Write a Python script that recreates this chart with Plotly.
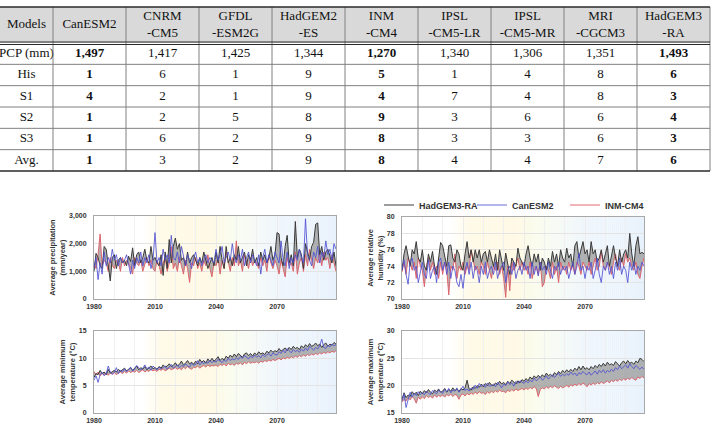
import plotly.graph_objects as go

# ---------------- Table data ----------------
header = ["Models", "CanESM2", "CNRM<br>-CM5", "GFDL<br>-ESM2G", "HadGEM2<br>-ES", "INM<br>-CM4",
          "IPSL<br>-CM5-LR", "IPSL<br>-CM5-MR", "MRI<br>-CGCM3", "HadGEM3<br>-RA"]
row_labels = ["PCP (mm)", "His", "S1", "S2", "S3", "Avg."]
pcp = ["1,497", "1,417", "1,425", "1,344", "1,270", "1,340", "1,306", "1,351", "1,493"]
rank_his = [1, 6, 1, 9, 5, 1, 4, 8, 6]
rank_s1 = [4, 2, 1, 9, 4, 7, 4, 8, 3]
rank_s2 = [1, 2, 5, 8, 9, 3, 6, 6, 4]
rank_s3 = [1, 6, 2, 9, 8, 3, 3, 6, 3]
rank_avg = [1, 3, 2, 9, 8, 4, 4, 7, 6]
bold_cols = [0, 4, 8]  # CanESM2, INM-CM4, HadGEM3-RA

# ---------------- Time-series data (1980-2099) ----------------
years = list(range(1980, 2100))

pr_had = [1000, 1650, 1500, 1200, 1100, 1900, 1800, 1300, 650, 1500,
          1600, 1100, 1400, 1500, 1300, 1400, 1200, 1550, 1350, 1850,
          1200, 1600, 1700, 1300, 1500, 1800, 1400, 1300, 1900, 1400,
          1500, 1300, 1200, 1600, 850, 1700, 1100, 2150, 1300, 1900,
          2200, 1800, 2000, 1400, 1500, 1200, 1700, 1300, 1500, 1600,
          1400, 1200, 1500, 1300, 1700, 1400, 1100, 1300, 1500, 1200,
          1700, 1300, 1900, 1400, 1100, 1900, 1300, 1500, 1200, 1600,
          1400, 1900, 1300, 1500, 1700, 1200, 1600, 1400, 1800, 1300,
          1500, 1200, 1700, 1400, 1600, 1300, 1500, 1900, 1400, 1600,
          2400, 2350, 1500, 1200, 1900, 2300, 1300, 1600, 1200, 2800,
          1500, 1800, 1600, 1100, 2000, 1700, 1400, 1900, 2050, 2700,
          2750, 1600, 1900, 1400, 1700, 1800, 1500, 1300, 1700, 1200]
pr_can = [1100, 1500, 700, 1300, 900, 1700, 1200, 1500, 1300, 1800,
          1400, 1600, 1200, 1500, 1300, 1400, 1600, 1200, 900, 1400,
          1100, 1500, 1300, 1700, 1200, 1500, 1300, 1600, 1100, 1400,
          2400, 1300, 1500, 1200, 1800, 1400, 1600, 1300, 2300, 1500,
          1400, 1700, 1300, 1900, 1500, 1200, 1600, 1400, 1100, 1500,
          1700, 1300, 1500, 1200, 1400, 1600, 1300, 1500, 1400, 1300,
          1800, 1400, 1600, 1900, 1300, 1500, 1700, 1400, 2000, 1500,
          1300, 1600, 1400, 1800, 1200, 1500, 1700, 1300, 1600, 1400,
          1200, 1600, 900, 1500, 1800, 1300, 1600, 1400, 1200, 1700,
          1500, 1300, 2100, 1400, 1200, 1700, 1100, 1500, 1300, 1600,
          1400, 1800, 1500, 1300, 2900, 1600, 1400, 1200, 1700, 1500,
          1900, 1300, 1700, 1500, 2100, 1600, 1800, 1400, 2000, 1800]
pr_inm = [1300, 1100, 1600, 2350, 1200, 1400, 1300, 1000, 1500, 1200,
          1100, 1400, 1300, 1000, 1500, 1200, 1400, 1300, 1100, 900,
          1500, 1300, 1200, 1400, 1000, 1300, 1500, 1200, 1400, 1100,
          1000, 1400, 1200, 900, 1300, 1500, 1000, 1300, 1900, 1100,
          1300, 1000, 1500, 1200, 900, 1400, 1100, 600, 1300, 1200,
          1500, 1100, 1300, 1000, 1400, 1200, 1600, 1100, 800, 1300,
          1200, 1500, 900, 1400, 1100, 1700, 1300, 1000, 1500, 1200,
          2100, 1200, 1400, 1000, 1600, 1300, 1100, 1500, 1200, 1400,
          1300, 1100, 1500, 1200, 1400, 1000, 1600, 1300, 1100, 1400,
          1200, 900, 1400, 1100, 800, 1500, 1200, 1300, 1000, 1700,
          900, 1300, 1500, 1000, 1600, 1200, 1800, 1400, 1100, 1500,
          1300, 1600, 1200, 1700, 1400, 1500, 1100, 1600, 1300, 1000]

rh_had = [73.5, 75.5, 76.5, 75.0, 74.0, 76.0, 75.5, 77.0, 75.0, 74.5,
          76.0, 74.0, 73.5, 75.5, 74.5, 75.8, 74.0, 73.0, 75.0, 76.9,
          76.5, 75.0, 74.0, 76.5, 76.6, 75.0, 74.5, 76.0, 75.5, 74.0,
          73.5, 75.5, 77.0, 75.0, 76.0, 74.5, 76.0, 75.0, 76.0, 74.5,
          75.5, 75.8, 74.5, 76.0, 75.0, 74.0, 75.5, 73.5, 76.0, 74.8,
          73.5, 75.6, 74.5, 73.0, 75.0, 74.5, 74.0, 76.2, 75.0, 74.5,
          74.0, 75.5, 76.5, 75.0, 74.0, 75.5, 74.5, 75.5, 73.5, 75.0,
          74.5, 73.5, 75.0, 74.0, 75.8, 74.5, 75.5, 74.0, 76.0, 75.0,
          74.5, 76.2, 75.0, 75.5, 74.0, 76.5, 77.0, 75.0, 76.0, 77.0,
          75.5, 76.0, 74.5, 77.0, 75.5, 76.0, 74.5, 75.0, 76.0, 74.5,
          75.5, 76.5, 74.0, 75.5, 76.5, 75.0, 74.0, 76.0, 74.5, 75.5,
          76.0, 75.0, 78.0, 75.5, 74.0, 76.5, 77.6, 75.5, 75.7, 75.5]
rh_can = [73.5, 74.8, 73.0, 71.8, 74.5, 75.0, 73.5, 74.0, 72.0, 73.5,
          74.5, 73.0, 72.5, 74.8, 72.5, 73.5, 74.0, 72.0, 74.5, 75.0,
          73.5, 74.5, 73.0, 74.5, 72.5, 74.0, 73.5, 72.0, 71.5, 73.0,
          71.3, 73.5, 74.5, 73.0, 74.5, 72.5, 74.0, 73.5, 72.0, 74.0,
          73.0, 74.5, 72.5, 73.5, 74.0, 73.0, 74.5, 72.5, 73.5, 74.0,
          74.5, 72.0, 73.5, 74.0, 73.0, 74.5, 72.5, 73.5, 74.0, 73.0,
          74.5, 73.5, 74.0, 72.5, 74.5, 73.0, 74.0, 72.8, 74.5, 73.5,
          74.0, 73.0, 74.5, 73.5, 72.5, 74.0, 73.5, 74.5, 73.0, 74.0,
          73.5, 74.0, 72.5, 73.5, 74.5, 73.0, 74.0, 75.6, 73.5, 74.0,
          72.5, 74.0, 73.5, 74.5, 72.5, 73.5, 75.0, 73.0, 72.0, 74.0,
          73.5, 74.5, 73.0, 74.0, 72.5, 74.5, 73.5, 75.0, 73.0, 74.0,
          73.5, 72.0, 74.5, 73.5, 74.5, 73.0, 74.0, 73.5, 74.5, 74.0]
rh_inm = [73.3, 74.5, 73.0, 75.0, 74.5, 73.5, 74.5, 72.5, 75.0, 74.0,
          73.5, 71.5, 74.0, 75.0, 73.5, 74.5, 73.0, 74.0, 72.5, 74.5,
          73.0, 74.5, 73.5, 70.5, 74.0, 73.5, 75.5, 72.5, 74.0, 73.5,
          74.5, 73.0, 74.0, 73.5, 76.0, 74.5, 73.5, 74.0, 73.0, 74.5,
          74.0, 73.0, 74.5, 73.5, 72.5, 74.0, 73.5, 74.5, 73.0, 74.0,
          72.5, 70.2, 74.0, 71.0, 74.5, 73.5, 74.0, 75.0, 73.5, 74.5,
          73.5, 74.0, 73.0, 74.5, 72.5, 73.5, 74.0, 73.0, 74.5, 71.5,
          72.0, 74.0, 73.5, 72.5, 74.5, 73.0, 74.0, 72.0, 74.5, 73.5,
          74.0, 73.0, 74.5, 73.5, 74.0, 73.0, 74.5, 74.0, 73.0, 74.5,
          74.0, 73.5, 74.5, 73.0, 74.0, 75.0, 73.5, 74.0, 75.8, 74.0,
          73.5, 74.5, 74.0, 73.0, 74.5, 75.5, 74.0, 73.5, 75.0, 74.0,
          75.5, 74.5, 75.0, 74.0, 73.5, 74.5, 73.0, 72.5, 74.0, 75.0]

tmin_had = [6.5, 7.2, 7.0, 7.8, 7.2, 7.5, 7.0, 8.0, 7.3, 7.6,
            7.8, 7.5, 8.0, 7.6, 7.9, 8.2, 7.7, 8.0, 8.3, 7.8,
            8.2, 8.6, 7.9, 8.3, 8.0, 8.5, 7.9, 8.2, 8.6, 8.1,
            8.3, 8.0, 8.5, 8.2, 8.8, 8.4, 8.6, 9.0, 8.5, 8.7,
            9.2, 8.6, 8.9, 9.5, 8.8, 9.1, 9.6, 9.0, 9.3, 8.9,
            9.5, 9.0, 9.8, 9.3, 9.6, 9.1, 9.9, 9.4, 10.0, 9.5,
            9.8, 10.3, 9.6, 10.0, 9.7, 10.4, 10.0, 10.6, 10.2, 10.8,
            10.3, 10.9, 10.5, 10.2, 10.8, 11.0, 10.5, 10.9, 10.4, 11.0,
            10.6, 11.2, 10.8, 11.0, 10.7, 11.3, 11.0, 11.5, 11.1, 11.4,
            11.2, 11.8, 11.3, 11.6, 11.9, 11.4, 12.0, 11.6, 12.2, 11.8,
            12.0, 11.6, 12.3, 11.9, 12.5, 12.1, 12.7, 12.2, 12.4, 12.8,
            12.3, 12.6, 12.0, 12.5, 12.8, 12.2, 12.6, 12.4, 12.9, 12.6]
tmin_can = [6.0, 6.8, 5.6, 7.0, 7.4, 6.8, 7.2, 8.6, 7.5, 7.1,
            7.4, 8.3, 7.2, 7.8, 7.5, 8.1, 7.6, 7.9, 8.4, 7.7,
            8.0, 8.7, 8.3, 7.9, 8.2, 8.8, 8.1, 8.4, 7.8, 8.6,
            8.2, 7.9, 8.4, 8.1, 8.3, 8.6, 8.0, 8.4, 8.9, 8.2,
            8.5, 8.8, 8.3, 8.7, 8.5, 9.0, 8.6, 8.4, 9.1, 8.7,
            8.9, 9.6, 8.8, 9.3, 9.0, 9.4, 9.1, 9.6, 9.2, 9.5,
            9.3, 9.8, 9.5, 9.2, 9.7, 9.4, 10.0, 9.6, 9.9, 9.7,
            10.1, 9.8, 10.3, 10.0, 10.5, 10.2, 9.9, 10.4, 10.1, 10.6,
            10.2, 10.5, 10.1, 10.7, 10.3, 10.6, 10.9, 10.4, 11.0, 10.7,
            10.6, 11.2, 10.9, 11.5, 11.0, 11.8, 11.3, 11.0, 11.6, 11.2,
            11.5, 11.1, 11.7, 11.3, 11.9, 11.4, 12.2, 11.8, 11.5, 12.0,
            11.7, 12.3, 13.5, 12.0, 11.8, 12.4, 12.1, 12.6, 12.3, 12.5]
tmin_inm = [7.6, 7.0, 7.5, 6.8, 7.2, 7.0, 7.4, 6.9, 7.3, 7.1,
            7.4, 7.0, 7.3, 7.5, 7.2, 7.6, 7.3, 7.7, 7.4, 7.6,
            7.5, 7.8, 7.4, 7.6, 7.9, 7.5, 7.8, 7.6, 8.0, 7.7,
            7.9, 7.6, 8.0, 7.8, 8.1, 7.7, 8.0, 8.2, 7.9, 8.1,
            8.3, 8.0, 8.2, 7.9, 8.4, 8.1, 8.5, 8.2, 8.0, 8.4,
            8.3, 8.6, 8.2, 8.5, 8.7, 8.4, 8.8, 8.5, 8.7, 8.6,
            8.8, 8.5, 8.9, 8.7, 9.0, 8.6, 9.1, 8.8, 9.0, 8.7,
            9.1, 8.9, 9.2, 8.8, 9.3, 9.0, 9.4, 9.1, 9.3, 9.2,
            9.4, 9.1, 9.5, 9.3, 9.6, 9.4, 9.7, 9.5, 9.8, 9.6,
            9.8, 10.0, 9.7, 10.1, 9.9, 10.2, 10.0, 10.3, 10.1, 10.4,
            10.2, 10.5, 10.3, 10.6, 10.4, 10.7, 10.5, 10.8, 10.6, 10.9,
            10.7, 11.0, 10.8, 11.1, 10.9, 11.2, 11.0, 11.3, 11.1, 11.4]

tmax_had = [17.5, 18.7, 17.8, 18.3, 18.0, 18.9, 18.4, 18.8, 18.2, 19.0,
            18.5, 19.1, 18.7, 19.3, 18.8, 18.5, 19.2, 18.9, 19.4, 18.8,
            19.0, 19.5, 18.8, 19.3, 19.0, 19.6, 19.1, 19.4, 18.9, 19.5,
            19.2, 19.6, 21.0, 19.4, 19.2, 19.8, 19.5, 20.0, 19.7, 20.3,
            19.8, 20.4, 20.0, 20.6, 20.1, 20.0, 20.5, 20.2, 20.8, 20.3,
            20.6, 20.2, 20.8, 20.4, 21.0, 20.6, 20.3, 20.9, 20.5, 21.1,
            20.8, 21.3, 20.9, 21.6, 21.2, 21.8, 21.4, 21.9, 21.5, 22.0,
            21.6, 22.3, 21.8, 22.1, 21.7, 22.4, 22.0, 22.6, 22.2, 22.8,
            22.4, 22.9, 22.5, 23.0, 22.6, 23.2, 22.8, 23.5, 22.9, 23.6,
            23.0, 23.3, 22.9, 23.5, 23.1, 23.7, 23.3, 23.9, 23.5, 24.1,
            23.6, 24.3, 23.8, 24.0, 23.7, 24.4, 24.0, 23.6, 24.2, 24.5,
            24.0, 24.6, 24.1, 24.3, 23.9, 24.5, 24.2, 25.0, 24.8, 24.4]
tmax_can = [17.2, 18.5, 16.0, 17.5, 18.8, 17.9, 18.6, 18.2, 18.9, 18.4,
            18.7, 18.3, 19.0, 18.6, 18.4, 19.1, 18.8, 18.5, 19.2, 18.9,
            18.6, 19.3, 18.9, 19.5, 18.7, 19.2, 19.0, 19.6, 18.8, 19.3,
            19.9, 19.1, 19.4, 19.0, 19.6, 19.3, 20.1, 19.5, 20.4, 19.8,
            20.2, 19.7, 20.5, 19.9, 20.0, 20.3, 19.8, 20.6, 20.1, 19.6,
            20.3, 20.0, 20.7, 20.2, 20.5, 19.9, 20.8, 20.4, 20.9, 20.6,
            20.4, 20.9, 20.5, 21.0, 20.7, 21.4, 20.9, 21.2, 21.6, 21.0,
            21.3, 21.8, 21.2, 21.6, 22.0, 21.5, 21.9, 22.3, 21.7, 22.1,
            21.8, 22.2, 21.9, 22.5, 22.0, 22.3, 21.8, 22.4, 22.1, 22.6,
            22.2, 22.0, 22.5, 21.9, 22.3, 22.7, 22.1, 22.8, 22.4, 22.9,
            22.3, 22.8, 22.5, 23.0, 22.6, 23.3, 22.9, 23.6, 23.1, 23.4,
            23.8, 23.2, 24.0, 23.5, 23.1, 23.7, 23.3, 23.0, 23.4, 23.0]
tmax_inm = [17.0, 17.5, 17.2, 17.8, 17.4, 18.0, 17.6, 16.8, 17.9, 17.5,
            18.0, 17.6, 18.2, 17.8, 18.1, 17.7, 18.3, 17.9, 18.2, 18.0,
            18.3, 17.9, 18.4, 18.1, 18.5, 18.0, 18.4, 18.2, 17.5, 18.3,
            18.5, 18.1, 18.6, 18.3, 18.7, 18.4, 18.8, 18.5, 18.9, 18.6,
            18.7, 18.4, 18.9, 18.6, 19.0, 18.7, 19.1, 18.8, 19.2, 18.9,
            19.0, 18.7, 19.2, 18.9, 19.3, 19.0, 19.4, 19.1, 19.3, 19.5,
            19.2, 19.6, 19.3, 19.7, 19.4, 19.8, 19.5, 18.0, 19.3, 19.6,
            19.4, 19.8, 19.5, 19.9, 19.6, 20.0, 19.7, 19.5, 19.9, 19.6,
            19.8, 20.1, 19.7, 20.2, 19.9, 20.3, 20.0, 20.4, 20.1, 20.5,
            20.2, 19.8, 20.4, 20.1, 20.5, 20.2, 20.6, 20.3, 20.7, 20.4,
            20.6, 20.9, 20.5, 21.0, 20.7, 21.1, 20.8, 21.2, 20.9, 21.3,
            21.0, 21.4, 21.1, 21.5, 21.2, 21.0, 21.6, 21.3, 21.7, 21.4]

series_names = ["HadGEM3-RA", "CanESM2", "INM-CM4"]
x_tick_vals = [1980, 2010, 2040, 2070]

panels = [
    dict(had=pr_had, can=pr_can, inm=pr_inm, title="Average precipitation<br>(mm/year)",
         yrange=[0, 3000], dtick=1000, fmt=",d"),
    dict(had=rh_had, can=rh_can, inm=rh_inm, title="Average relative<br>humidity (%)",
         yrange=[70, 80], dtick=2, fmt="d"),
    dict(had=tmin_had, can=tmin_can, inm=tmin_inm, title="Average minimum<br>temperature (°C)",
         yrange=[0, 15], dtick=5, fmt="d"),
    dict(had=tmax_had, can=tmax_can, inm=tmax_inm, title="Average maximum<br>temperature (°C)",
         yrange=[15, 30], dtick=5, fmt="d"),
]

W, H = 712, 429
def px_x(a, b):
    return [a / W, b / W]
def px_y(top, bottom):
    return [1 - bottom / H, 1 - top / H]

domains = [
    (px_x(94, 336), px_y(216, 299)),
    (px_x(402, 644), px_y(217, 299)),
    (px_x(94, 336), px_y(331, 413)),
    (px_x(402, 644), px_y(331, 413)),
]

fig = go.Figure()
shapes = []

# ---------------- Table (drawn on a hidden pixel-unit axis pair over the top band) ----------------
TABLE_H = 180  # pixel height of the band that holds the table
col_edges = [0, 53] + [53 + 73.0 * k for k in range(1, 10)]
row_edges = [7, 43] + [43 + 128.0 / 6 * k for k in range(1, 7)]
TX, TY = "x5", "y5"
table_rows = [pcp, rank_his, rank_s1, rank_s2, rank_s3, rank_avg]

tx, ty, tt = [], [], []
for c, h in enumerate(header):
    tx.append((col_edges[c] + col_edges[c + 1]) / 2)
    ty.append((row_edges[0] + row_edges[1]) / 2)
    tt.append(h)
for r, (lab, vals) in enumerate(zip(row_labels, table_rows)):
    yc = (row_edges[r + 1] + row_edges[r + 2]) / 2
    tx.append((col_edges[0] + col_edges[1]) / 2)
    ty.append(yc)
    tt.append(lab)
    for j, v in enumerate(vals):
        s = str(v)
        tx.append((col_edges[j + 1] + col_edges[j + 2]) / 2)
        ty.append(yc)
        tt.append(f"<b>{s}</b>" if j in bold_cols else s)

fig.add_trace(go.Scatter(x=tx, y=ty, text=tt, mode="text", textposition="middle center",
                         textfont=dict(family="Liberation Serif", size=13, color="#111"),
                         xaxis=TX, yaxis=TY, showlegend=False, hoverinfo="skip",
                         cliponaxis=False))

shapes.append(dict(type="rect", xref=TX, yref=TY, x0=0, x1=col_edges[-1],
                   y0=row_edges[0], y1=row_edges[1], fillcolor="#d9d9d9",
                   line=dict(width=0), layer="below"))
for xe in col_edges[1:]:
    shapes.append(dict(type="line", xref=TX, yref=TY, x0=xe, x1=xe, y0=row_edges[0],
                       y1=row_edges[-1], line=dict(color="#808080", width=1)))
for ye in row_edges[2:-1]:
    shapes.append(dict(type="line", xref=TX, yref=TY, x0=0, x1=col_edges[-1], y0=ye, y1=ye,
                       line=dict(color="#808080", width=1)))
for ye, wd in [(row_edges[0], 1.6), (row_edges[1] - 1, 1.0), (row_edges[1] + 1.5, 1.0),
               (row_edges[-1], 1.6)]:
    shapes.append(dict(type="line", xref=TX, yref=TY, x0=0, x1=col_edges[-1], y0=ye, y1=ye,
                       line=dict(color="#2a2a2a", width=wd)))

# ---------------- Time series panels ----------------
bg_stops = [(1980, (255, 255, 255)), (2004, (255, 255, 255)), (2014, (255, 250, 230)),
            (2034, (255, 249, 228)), (2046, (250, 252, 236)), (2060, (244, 249, 247)),
            (2074, (238, 245, 252)), (2099, (232, 242, 252))]
def bg_color(yr):
    for (a, ca), (b, cb) in zip(bg_stops[:-1], bg_stops[1:]):
        if a <= yr <= b:
            t = (yr - a) / (b - a)
            c = [round(ca[k] + (cb[k] - ca[k]) * t) for k in range(3)]
            return f"rgb({c[0]},{c[1]},{c[2]})"
    return "white"

tick_font = dict(family="Liberation Sans", size=7, color="#333", weight="bold")
for i, (p, (dx, dy)) in enumerate(zip(panels, domains)):
    n = "" if i == 0 else str(i + 1)
    xa, ya = "x" + n, "y" + n
    show = (i == 1)
    # INM-CM4 line (also the lower edge of the gray band)
    fig.add_trace(go.Scatter(x=years, y=p["inm"], mode="lines", name=series_names[2],
                             line=dict(color="rgba(222,90,100,0.9)", width=1),
                             xaxis=xa, yaxis=ya, showlegend=show, legendrank=3))
    # gray band between INM-CM4 and HadGEM3-RA
    fig.add_trace(go.Scatter(x=years, y=p["had"], mode="lines", line=dict(width=0),
                             fill="tonexty", fillcolor="rgba(150,150,150,0.72)",
                             xaxis=xa, yaxis=ya, showlegend=False, hoverinfo="skip"))
    fig.add_trace(go.Scatter(x=years, y=p["had"], mode="lines", name=series_names[0],
                             line=dict(color="#3a3a3a", width=1),
                             xaxis=xa, yaxis=ya, showlegend=show, legendrank=1))
    fig.add_trace(go.Scatter(x=years, y=p["can"], mode="lines", name=series_names[1],
                             line=dict(color="rgba(80,80,210,0.85)", width=1),
                             xaxis=xa, yaxis=ya, showlegend=show, legendrank=2))
    fig.layout["xaxis" + n] = dict(domain=dx, anchor=ya, range=[1980, 2099],
                                   tickvals=x_tick_vals, showgrid=True, gridcolor="#ececec",
                                   minor=dict(dtick=10, tick0=1980, showgrid=True, gridcolor="#f0f0f0"),
                                   showline=True, mirror=True, linecolor="#a8a8a8", linewidth=1,
                                   ticks="outside", ticklen=1, tickcolor="rgba(0,0,0,0)",
                                   tickfont=tick_font, zeroline=False)
    fig.layout["yaxis" + n] = dict(domain=dy, anchor=xa, range=p["yrange"], dtick=p["dtick"],
                                   tickformat=p["fmt"], showgrid=True, gridcolor="#e4e4e4",
                                   showline=True, mirror=True, linecolor="#a8a8a8", linewidth=1,
                                   ticks="outside", ticklen=5, tickcolor="rgba(0,0,0,0)",
                                   tickfont=tick_font, zeroline=False,
                                   title=dict(text=p["title"], standoff=2,
                                              font=dict(family="Liberation Sans", size=7.5,
                                                        color="#333", weight="bold")))
    for yr in range(1980, 2099):
        shapes.append(dict(type="rect", xref=xa, yref=ya + " domain", x0=yr, x1=yr + 1,
                           y0=0, y1=1, fillcolor=bg_color(yr + 0.5), line=dict(width=0),
                           layer="below"))

fig.update_layout(
    width=W, height=H, margin=dict(l=0, r=0, t=0, b=0, autoexpand=False),
    paper_bgcolor="white", plot_bgcolor="rgba(0,0,0,0)",
    shapes=shapes,
    xaxis5=dict(domain=[0, 1], range=[0, W], visible=False, anchor="y5", fixedrange=True),
    yaxis5=dict(domain=[1 - TABLE_H / H, 1], range=[TABLE_H, 0], visible=False, anchor="x5",
                fixedrange=True),
    legend=dict(orientation="h", x=379 / W, y=1 - 205 / H, xanchor="left", yanchor="middle",
                font=dict(family="Liberation Sans", size=9, color="#333", weight="bold"),
                itemwidth=30, entrywidth=48, entrywidthmode="pixels",
                bgcolor="rgba(0,0,0,0)", traceorder="normal"),
)

fig.write_html("out.html")
